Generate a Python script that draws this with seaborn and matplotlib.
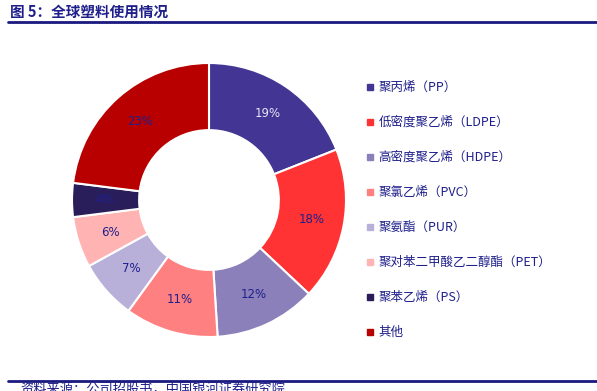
import matplotlib
matplotlib.use("Agg")
import matplotlib.pyplot as plt
from matplotlib.lines import Line2D
import seaborn as sns

# data
labels = ["聚丙烯（PP）", "低密度聚乙烯（LDPE）", "高密度聚乙烯（HDPE）", "聚氯乙烯（PVC）",
          "聚氨酯（PUR）", "聚对苯二甲酸乙二醇酯（PET）", "聚苯乙烯（PS）", "其他"]
shares = [19, 18, 12, 11, 7, 6, 4, 23]
colors = ["#423594", "#FF3333", "#8B80BA", "#FF8080", "#B8B0D8", "#FFB3B3", "#2A1E5A", "#B80000"]

title = "图 5：全球塑料使用情况"
source = "资料来源：公司招股书，中国银河证券研究院"

sns.set_style("white")
plt.rcParams["font.family"] = ["Noto Sans CJK SC", "DejaVu Sans"]
navy = "#1F1F8C"

fig = plt.figure(figsize=(5.97, 3.91), dpi=100)
palette = sns.color_palette(colors)

# donut
ax = fig.add_axes([72 / 597, 54 / 391, 274 / 597, 274 / 391])
wedges, texts, autotexts = ax.pie(
    shares, colors=palette, startangle=90, counterclock=False, radius=1,
    autopct="%d%%", pctdistance=0.76,
    wedgeprops=dict(width=0.49, edgecolor="white", linewidth=1.5),
    textprops=dict(fontsize=8.5, color=navy, family="DejaVu Sans"))
autotexts[0].set_color("#E8E4F4")
ax.set_xlim(-1, 1)
ax.set_ylim(-1, 1)
ax.set_aspect("equal")
ax.axis("off")

# legend
handles = [Line2D([], [], marker="s", linestyle="none", markersize=4,
                  markerfacecolor=c, markeredgecolor=c) for c in colors]
leg = fig.legend(handles, labels, loc="upper left", bbox_to_anchor=(360 / 597, 1 - 76 / 391),
                 frameon=False, fontsize=9, labelspacing=1.76, handletextpad=0.3,
                 handlelength=0.8, borderaxespad=0)
for t in leg.get_texts():
    t.set_color(navy)

# header and footer
fig.text(10 / 597, 1 - 12 / 391, title, fontsize=10.5, fontweight="bold", color=navy, va="center")
fig.add_artist(Line2D([8 / 597, 1], [1 - 22 / 391] * 2, color="#1A1A80", linewidth=2))
fig.add_artist(Line2D([8 / 597, 1], [1 - 381 / 391] * 2, color="#1A1A80", linewidth=2))
fig.text(20 / 597, 1 - 390 / 391, source, fontsize=9.5, style="italic", color=navy, va="center")

fig.savefig("out.png", dpi=100)
